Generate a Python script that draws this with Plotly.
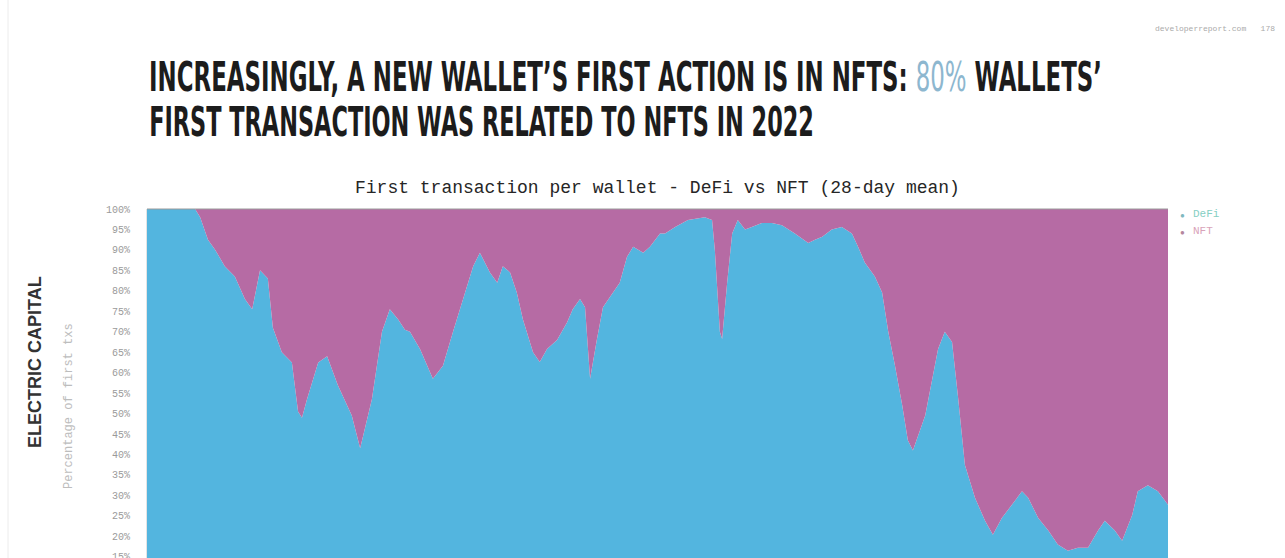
import plotly.graph_objects as go

# 28-day mean share of first transactions per wallet, DeFi vs NFT (percent)
dates = [
    "2018-01-01", "2018-03-28", "2018-04-06", "2018-04-20", "2018-05-03", "2018-05-20",
    "2018-06-07", "2018-06-25", "2018-07-08", "2018-07-22", "2018-08-05", "2018-08-14",
    "2018-08-30", "2018-09-17", "2018-09-28", "2018-10-05", "2018-10-14", "2018-11-03",
    "2018-11-19", "2018-12-08", "2019-01-02", "2019-01-17", "2019-02-07", "2019-02-25",
    "2019-03-11", "2019-03-26", "2019-04-07", "2019-04-16", "2019-05-04", "2019-05-27",
    "2019-06-14", "2019-07-02", "2019-07-20", "2019-08-07", "2019-08-19", "2019-09-06",
    "2019-09-19", "2019-09-29", "2019-10-12", "2019-10-24", "2019-11-04", "2019-11-22",
    "2019-12-04", "2019-12-17", "2020-01-04", "2020-01-22", "2020-02-01", "2020-02-14",
    "2020-02-23", "2020-03-03", "2020-03-15", "2020-03-26", "2020-04-13", "2020-04-25",
    "2020-05-08", "2020-05-19", "2020-06-06", "2020-06-18", "2020-07-06", "2020-07-15",
    "2020-08-02", "2020-08-25", "2020-09-24", "2020-10-07", "2020-10-12", "2020-10-21",
    "2020-10-25", "2020-11-03", "2020-11-12", "2020-11-22", "2020-12-05", "2020-12-17",
    "2021-01-04", "2021-01-22", "2021-02-09", "2021-03-04", "2021-03-28", "2021-04-09",
    "2021-04-22", "2021-05-09", "2021-05-27", "2021-06-14", "2021-06-25", "2021-07-07",
    "2021-07-25", "2021-08-07", "2021-08-18", "2021-08-30", "2021-09-12", "2021-09-22",
    "2021-10-01", "2021-10-23", "2021-11-15", "2021-11-27", "2021-12-10", "2021-12-21",
    "2022-01-02", "2022-01-20", "2022-02-07", "2022-02-21", "2022-03-09", "2022-03-27",
    "2022-04-14", "2022-04-25", "2022-05-13", "2022-05-31", "2022-06-17", "2022-07-05",
    "2022-07-23", "2022-08-10", "2022-08-28", "2022-09-09", "2022-09-27", "2022-10-10",
    "2022-10-28", "2022-11-07", "2022-11-25", "2022-12-13", "2022-12-31",
]

defi_share = [
    100, 100, 98, 92.5, 90, 86,
    83.5, 78, 75.5, 85, 83, 71,
    65, 62.5, 50.5, 49, 53.5, 62.5,
    64, 57, 49.5, 41.5, 53.5, 70,
    75.5, 73, 70.5, 70, 65.8, 58.5,
    61.7, 70, 78, 86, 89.3, 84.5,
    82, 86, 84.5, 79.6, 73, 65,
    62.6, 65.8, 68, 72.3, 75.5, 78,
    76, 58.5, 68, 76, 79.6, 82,
    88.3, 90.8, 89.3, 90.8, 94, 94,
    95.6, 97.3, 98, 97.3, 90, 70,
    68.2, 82, 94, 97.3, 95, 95.6,
    96.6, 96.6, 96, 94, 91.7, 92.5,
    93.2, 95, 95.6, 94, 90.8, 86.9,
    83.5, 79.6, 70, 61.7, 52, 43.5,
    41, 49.5, 65.8, 70, 67.5, 53.6,
    37.4, 29.4, 23.8, 20.4, 24.5, 27.7,
    31, 29.4, 24.5, 21.4, 18, 16.5,
    17.2, 17.2, 21.4, 23.8, 21.4, 18.9,
    25.2, 31, 32.5, 31, 27.7,
]

nft_share = [
    0, 0, 2, 7.5, 10, 14,
    16.5, 22, 24.5, 15, 17, 29,
    35, 37.5, 49.5, 51, 46.5, 37.5,
    36, 43, 50.5, 58.5, 46.5, 30,
    24.5, 27, 29.5, 30, 34.2, 41.5,
    38.3, 30, 22, 14, 10.7, 15.5,
    18, 14, 15.5, 20.4, 27, 35,
    37.4, 34.2, 32, 27.7, 24.5, 22,
    24, 41.5, 32, 24, 20.4, 18,
    11.7, 9.2, 10.7, 9.2, 6, 6,
    4.4, 2.7, 2, 2.7, 10, 30,
    31.8, 18, 6, 2.7, 5, 4.4,
    3.4, 3.4, 4, 6, 8.3, 7.5,
    6.8, 5, 4.4, 6, 9.2, 13.1,
    16.5, 20.4, 30, 38.3, 48, 56.5,
    59, 50.5, 34.2, 30, 32.5, 46.4,
    62.6, 70.6, 76.2, 79.6, 75.5, 72.3,
    69, 70.6, 75.5, 78.6, 82, 83.5,
    82.8, 82.8, 78.6, 76.2, 78.6, 81.1,
    74.8, 69, 67.5, 69, 72.3,
]

y_ticks = [100, 95, 90, 85, 80, 75, 70, 65, 60, 55, 50, 45, 40, 35, 30, 25, 20, 15]
y_tick_labels = [f"{v}%" for v in y_ticks]

DEFI_BLUE = "#53b5df"
NFT_PURPLE = "#b66ba4"
MONO = "Liberation Mono, DejaVu Sans Mono, monospace"
HEADLINE = "DejaVu Sans Condensed, DejaVu Sans, sans-serif"

fig = go.Figure()

fig.add_trace(go.Scatter(
    x=dates, y=defi_share, name="DeFi", stackgroup="share",
    mode="none", fillcolor=DEFI_BLUE, showlegend=False,
))
fig.add_trace(go.Scatter(
    x=dates, y=nft_share, name="NFT", stackgroup="share",
    mode="none", fillcolor=NFT_PURPLE, showlegend=False,
))


def paper_x(px):
    return (px - 147) / 1021


def paper_y(py):
    return (558 - py) / 349


headline_font = dict(family=HEADLINE, size=40, color="#1c1c1c", weight="bold")

annotations = [
    dict(text="INCREASINGLY, A NEW WALLET’S FIRST ACTION IS IN NFTS: "
              "<span style='color:#8db7cf;font-weight:normal'>80%</span> WALLETS’",
         x=paper_x(147), y=paper_y(77), xanchor="left", yanchor="middle", font=headline_font),
    dict(text="FIRST TRANSACTION WAS RELATED TO NFTS IN 2022",
         x=paper_x(147), y=paper_y(122), xanchor="left", yanchor="middle", font=headline_font),
    dict(text="First transaction per wallet - DeFi vs NFT (28-day mean)",
         x=0.5, y=paper_y(188), xanchor="center", yanchor="middle",
         font=dict(family=MONO, size=18, color="#262626")),
    dict(text="ELECTRIC CAPITAL", textangle=-90,
         x=paper_x(35), y=paper_y(362), xanchor="center", yanchor="middle",
         font=dict(family="Liberation Sans, Arial, sans-serif", size=18, color="#333",
                   weight="bold")),
    dict(text="Percentage of first txs", textangle=-90,
         x=paper_x(69), y=paper_y(406), xanchor="center", yanchor="middle",
         font=dict(family=MONO, size=12, color="#bdbdbd")),
    dict(text="developerreport.com   178",
         x=paper_x(1277), y=paper_y(29), xanchor="right", yanchor="middle",
         font=dict(family=MONO, size=8, color="#aaa")),
    # legend: dot + label
    dict(text="●", x=paper_x(1182), y=paper_y(214), xanchor="center", yanchor="middle",
         font=dict(size=8, color="#7fb9c0")),
    dict(text="DeFi", x=paper_x(1191), y=paper_y(214), xanchor="left", yanchor="middle",
         font=dict(family=MONO, size=11, color="#86cfc3")),
    dict(text="●", x=paper_x(1182), y=paper_y(231), xanchor="center", yanchor="middle",
         font=dict(size=8, color="#b5879d")),
    dict(text="NFT", x=paper_x(1191), y=paper_y(231), xanchor="left", yanchor="middle",
         font=dict(family=MONO, size=11, color="#d9a3b9")),
]
for a in annotations:
    a.update(xref="paper", yref="paper", showarrow=False)

fig.update_layout(
    width=1285, height=558,
    margin=dict(l=147, r=117, t=209, b=0, autoexpand=False),
    paper_bgcolor="white", plot_bgcolor="white",
    showlegend=False,
    xaxis=dict(
        range=["2018-01-01", "2022-12-31"], showgrid=False, showticklabels=False,
        zeroline=False, showline=False, ticks="",
    ),
    yaxis=dict(
        range=[14.7, 100], tickvals=y_ticks, ticktext=y_tick_labels,
        showgrid=False, zeroline=False, automargin=False,
        showline=True, linecolor="#e4e4e4", linewidth=1,
        ticks="", ticklabelstandoff=14, ticklabeloverflow="allow",
        tickfont=dict(family=MONO, size=10, color="#9a9a9a"),
    ),
    shapes=[
        dict(type="line", xref="paper", yref="paper", x0=0, x1=1, y0=1, y1=1,
             line=dict(color="#9a9a9a", width=1)),
        dict(type="line", xref="paper", yref="paper", x0=paper_x(8), x1=paper_x(8),
             y0=-0.1, y1=1.7, line=dict(color="#ececec", width=1)),
    ],
    annotations=annotations,
)

# The headline face is a tall condensed display type; squeeze the two
# headline lines horizontally to their set widths after drawing.
squeeze_headline = """
var gd = document.getElementById('{plot_id}');
[[0, 953], [1, 665]].forEach(function (p) {
  var t = gd.querySelector('g.annotation[data-index="' + p[0] + '"] text.annotation-text');
  if (!t) { return; }
  var w = t.getBBox().width;
  t.style.transformBox = 'fill-box';
  t.style.transformOrigin = '0% 50%';
  t.style.transform = 'scaleX(' + (p[1] / w) + ')';
});
"""

fig.write_html("out.html", post_script=squeeze_headline)
